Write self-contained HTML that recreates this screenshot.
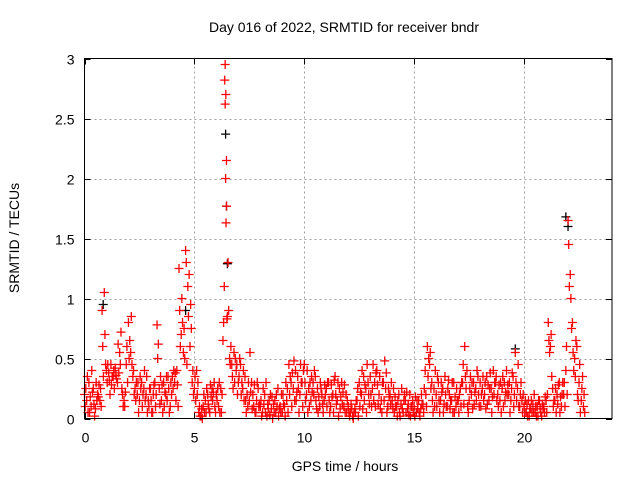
<!DOCTYPE html>
<html><head><meta charset="utf-8"><style>
body{margin:0;background:#fff}
svg{display:block;font-family:"Liberation Sans",sans-serif}
</style></head><body>
<svg id="chart" width="640" height="480" viewBox="0 0 640 480" xmlns="http://www.w3.org/2000/svg">
<rect width="640" height="480" fill="#fff"/>
<text x="344" y="32" font-size="14" text-anchor="middle">Day 016 of 2022, SRMTID for receiver bndr</text>
<text x="345" y="471" font-size="14" text-anchor="middle">GPS time / hours</text>
<text transform="translate(19,238) rotate(-90)" font-size="14" text-anchor="middle">SRMTID / TECUs</text>
<g id="grid"></g>
<g id="ticks"></g>
<g id="black"></g>
<g id="red"></g>
<rect x="84.5" y="58.5" width="527.5" height="360" fill="none" stroke="#000" stroke-width="1"/>
</svg>
<script>
const xTicks=[0,5,10,15,20];
const yTicks=[0,0.5,1,1.5,2,2.5,3];
const yTickLabels=["0","0.5","1","1.5","2","2.5","3"];
const times=[0.0,0.1,0.2,0.3,0.4,0.5,0.6,0.7,0.8,0.9,1.0,1.1,1.2,1.3,1.4,1.5,1.6,1.7,1.8,1.9,2.0,2.1,2.2,2.3,2.4,2.5,2.6,2.7,2.8,2.9,3.0,3.1,3.2,3.3,3.4,3.5,3.6,3.7,3.8,3.9,4.0,4.1,4.2,4.3,4.4,4.5,4.6,4.7,4.8,4.9,5.0,5.1,5.2,5.3,5.4,5.5,5.6,5.7,5.8,5.9,6.0,6.1,6.2,6.3,6.4,6.5,6.6,6.7,6.8,6.9,7.0,7.1,7.2,7.3,7.4,7.5,7.6,7.7,7.8,7.9,8.0,8.1,8.2,8.3,8.4,8.5,8.6,8.7,8.8,8.9,9.0,9.1,9.2,9.3,9.4,9.5,9.6,9.7,9.8,9.9,10.0,10.1,10.2,10.3,10.4,10.5,10.6,10.7,10.8,10.9,11.0,11.1,11.2,11.3,11.4,11.5,11.6,11.7,11.8,11.9,12.0,12.1,12.2,12.3,12.4,12.5,12.6,12.7,12.8,12.9,13.0,13.1,13.2,13.3,13.4,13.5,13.6,13.7,13.8,13.9,14.0,14.1,14.2,14.3,14.4,14.5,14.6,14.7,14.8,14.9,15.0,15.1,15.2,15.3,15.4,15.5,15.6,15.7,15.8,15.9,16.0,16.1,16.2,16.3,16.4,16.5,16.6,16.7,16.8,16.9,17.0,17.1,17.2,17.3,17.4,17.5,17.6,17.7,17.8,17.9,18.0,18.1,18.2,18.3,18.4,18.5,18.6,18.7,18.8,18.9,19.0,19.1,19.2,19.3,19.4,19.5,19.6,19.7,19.8,19.9,20.0,20.1,20.2,20.3,20.4,20.5,20.6,20.7,20.8,20.9,21.0,21.1,21.2,21.3,21.4,21.5,21.6,21.7,21.8,21.9,22.0,22.1,22.2,22.3,22.4,22.5,22.6,22.7];
const valsA=[.20,.15,.30,.10,.25,.08,.20,.15,.90,1.05, .40,.38,.45,.35,.42,.30,.55,.25,.15,.45, .80,.55,.35,.25,.20,.15,.30,.25,.20,.15, .25,.05,.30,.78,.25,.15,.30,.20,.35,.10, .35,.30,.40,1.25,.70,.55,1.40,1.10,.60,.30, .25,.40,.05,.02,.10,.15,.20,.05,.25,.30, .20,.10,.25,.65,2.95,.85,.50,.45,.55,.40, .30,.45,.25,.35,.20,.15,.30,.10,.05,.25, .10,.05,.20,.02,.15,.08,.12,.05,.25,.10, .05,.10,.15,.45,.30,.25,.40,.35,.20,.30, .45,.20,.25,.15,.30,.35,.25,.10,.20,.15, .25,.30,.10,.20,.35,.15,.25,.30,.10,.20, .10,.05,.02,.08,.15,.30,.20,.35,.25,.30, .35,.25,.30,.40,.20,.15,.30,.25,.10,.20, .15,.05,.10,.20,.12,.05,.15,.08,.20,.10, .10,.05,.15,.08,.12,.40,.60,.45,.30,.25, .20,.30,.15,.25,.35,.10,.20,.15,.30,.10, .15,.25,.30,.60,.40,.15,.20,.30,.25,.35, .30,.25,.20,.35,.15,.25,.40,.30,.20,.15, .25,.30,.40,.20,.15,.35,.55,.25,.10,.15, .10,.05,.15,.08,.12,.05,.10,.15,.02,.10, .15,.80,.60,.25,.15,.20,.30,.10,.20,.40, 1.65,1.20,.80,.50,.60,.30,.15,.10];
const valsB=[.10,.35,.05,.40,.12,.30,.18,.25,.60,.70, .30,.32,.28,.40,.36,.62,.45,.20,.10,.60, .50,.85,.40,.15,.30,.35,.10,.40,.35,.10, .15,.20,.10,.50,.12,.28,.10,.35,.25,.30, .25,.38,.28,.90,1.00,.75,1.30,.85,.95,.40, .35,.20,.10,.08,.20,.05,.12,.28,.15,.10, .15,.30,.05,.80,2.70,1.30,.45,.35,.30,.45, .35,.20,.40,.15,.10,.55,.08,.28,.15,.10, .15,.25,.05,.12,.03,.18,.05,.20,.02,.05, .20,.02,.25,.20,.10,.48,.15,.25,.45,.10, .30,.40,.10,.35,.20,.15,.05,.30,.12,.28, .10,.15,.28,.05,.20,.30,.08,.12,.28,.05, .05,.12,.00,.05,.25,.10,.40,.15,.05,.20, .20,.45,.10,.28,.35,.05,.15,.38,.25,.12, .08,.18,.02,.05,.25,.15,.05,.12,.02,.15, .02,.15,.05,.20,.05,.20,.35,.55,.15,.10, .10,.15,.30,.05,.20,.25,.08,.30,.05,.25, .05,.10,.45,.35,.10,.25,.30,.12,.15,.20, .10,.35,.30,.12,.25,.05,.20,.35,.10,.30, .35,.15,.20,.30,.25,.10,.30,.45,.20,.05, .05,.12,.02,.15,.05,.10,.02,.08,.12,.05, .05,.65,.70,.10,.25,.12,.05,.20,.30,.60, 1.45,1.00,.55,.35,.20,.45,.25,.20];
const valsC=[.25,.05,.18,.22,.02,.15,.28,.10,.35,.45, .45,.20,.35,.25,.33,.38,.72,.10,.22,.30, .65,.45,.20,.30,.05,.25,.20,.15,.05,.25, .05,.28,.20,.62,.35,.05,.22,.15,.05,.20, .40,.15,.10,.60,.80,.50,.45,1.20,.75,.20, .15,.30,.02,.00,.05,.25,.08,.18,.22,.05, .25,.05,.20,1.10,2.15,.90,.60,.25,.50,.20, .50,.30,.15,.05,.30,.22,.20,.05,.30,.12, .02,.12,.30,.08,.20,.00,.15,.10,.08,.20, .12,.30,.05,.35,.38,.15,.22,.05,.30,.40, .15,.05,.30,.22,.40,.08,.18,.25,.05,.20, .30,.05,.18,.32,.12,.02,.18,.22,.05,.15, .02,.08,.05,.15,.02,.22,.08,.28,.45,.12, .10,.15,.38,.12,.08,.30,.48,.05,.18,.30, .25,.10,.15,.02,.08,.20,.22,.03,.10,.05, .18,.08,.02,.12,.25,.10,.50,.25,.05,.40, .35,.05,.22,.12,.10,.32,.15,.05,.18,.15, .20,.30,.12,.25,.05,.35,.08,.22,.40,.10, .20,.15,.08,.28,.38,.18,.30,.15,.28,.05, .10,.22,.28,.05,.38,.20,.15,.10,.30,.20, .15,.02,.08,.05,.20,.02,.15,.05,.08,.18, .20,.55,.35,.15,.05,.28,.18,.30,.10,.20, 1.10,.75,.40,.65,.15,.05,.35,.05];
const spikeT=[6.38,6.40,6.42,6.44,6.46,6.48];
const spikeV=[2.82,2.62,2.00,1.63,1.77,0.83];
const blackT=[6.42,6.46,6.50,4.60,21.90,19.60,22.00,0.85];
const blackV=[2.37,1.77,1.29,0.90,1.68,0.58,1.60,0.95];

const X0=84.5,X1=612,Y0=418.5,Y1=58.5;
function xs(t){return X0+(t/24)*(X1-X0);}
function ys(v){return Y0-(v/3)*(Y0-Y1);}
const NS="http://www.w3.org/2000/svg";
const grid=document.getElementById('grid'),ticks=document.getElementById('ticks');
function line(g,x1,y1,x2,y2,st,dash){const l=document.createElementNS(NS,'line');l.setAttribute('x1',x1);l.setAttribute('y1',y1);l.setAttribute('x2',x2);l.setAttribute('y2',y2);l.setAttribute('stroke',st);if(dash)l.setAttribute('stroke-dasharray',dash);g.appendChild(l);return l;}
yTicks.forEach((v,i)=>{const y=Math.round(ys(v))+0.5;
 if(i>0&&i<yTicks.length-1){const gl=line(grid,X0,y,X1,y,'#a0a0a0','2,3');

}
 line(ticks,X0,y,X0+6,y,'#000');line(ticks,X1-6,y,X1,y,'#000');
 const t=document.createElementNS(NS,'text');t.setAttribute('x',X0-10);t.setAttribute('y',y+5);t.setAttribute('font-size','14');t.setAttribute('text-anchor','end');t.textContent=yTickLabels[i];


 ticks.appendChild(t);});
xTicks.forEach((v,i)=>{const x=Math.round(xs(v))+0.5;
 if(i>0){const gl=line(grid,x,Y0,x,Y1,'#a0a0a0','2,3');

}
 line(ticks,x,Y0,x,Y0-6,'#000');line(ticks,x,Y1,x,Y1+6,'#000');
 const t=document.createElementNS(NS,'text');t.setAttribute('x',x);t.setAttribute('y',Y0+24);t.setAttribute('font-size','14');t.setAttribute('text-anchor','middle');t.textContent=String(v);


 ticks.appendChild(t);});
function plus(g,t,v,col){const x=xs(t),y=ys(v);const p=document.createElementNS(NS,'path');
 p.setAttribute('d','M'+(x-4.5)+' '+y+'h9M'+x+' '+(y-4.5)+'v9');p.setAttribute('stroke',col);p.setAttribute('stroke-width','1.3');p.setAttribute('fill','none');


 g.appendChild(p);}
const gb=document.getElementById('black'),gr=document.getElementById('red');
blackT.forEach((t,i)=>plus(gb,t,blackV[i],'#000'));
times.forEach((t,i)=>{plus(gr,t,valsA[i],'#f00');plus(gr,t+0.03,valsB[i],'#f00');plus(gr,t+0.06,valsC[i],'#f00');});
spikeT.forEach((t,i)=>plus(gr,t,spikeV[i],'#f00'));
</script>
</body></html>
